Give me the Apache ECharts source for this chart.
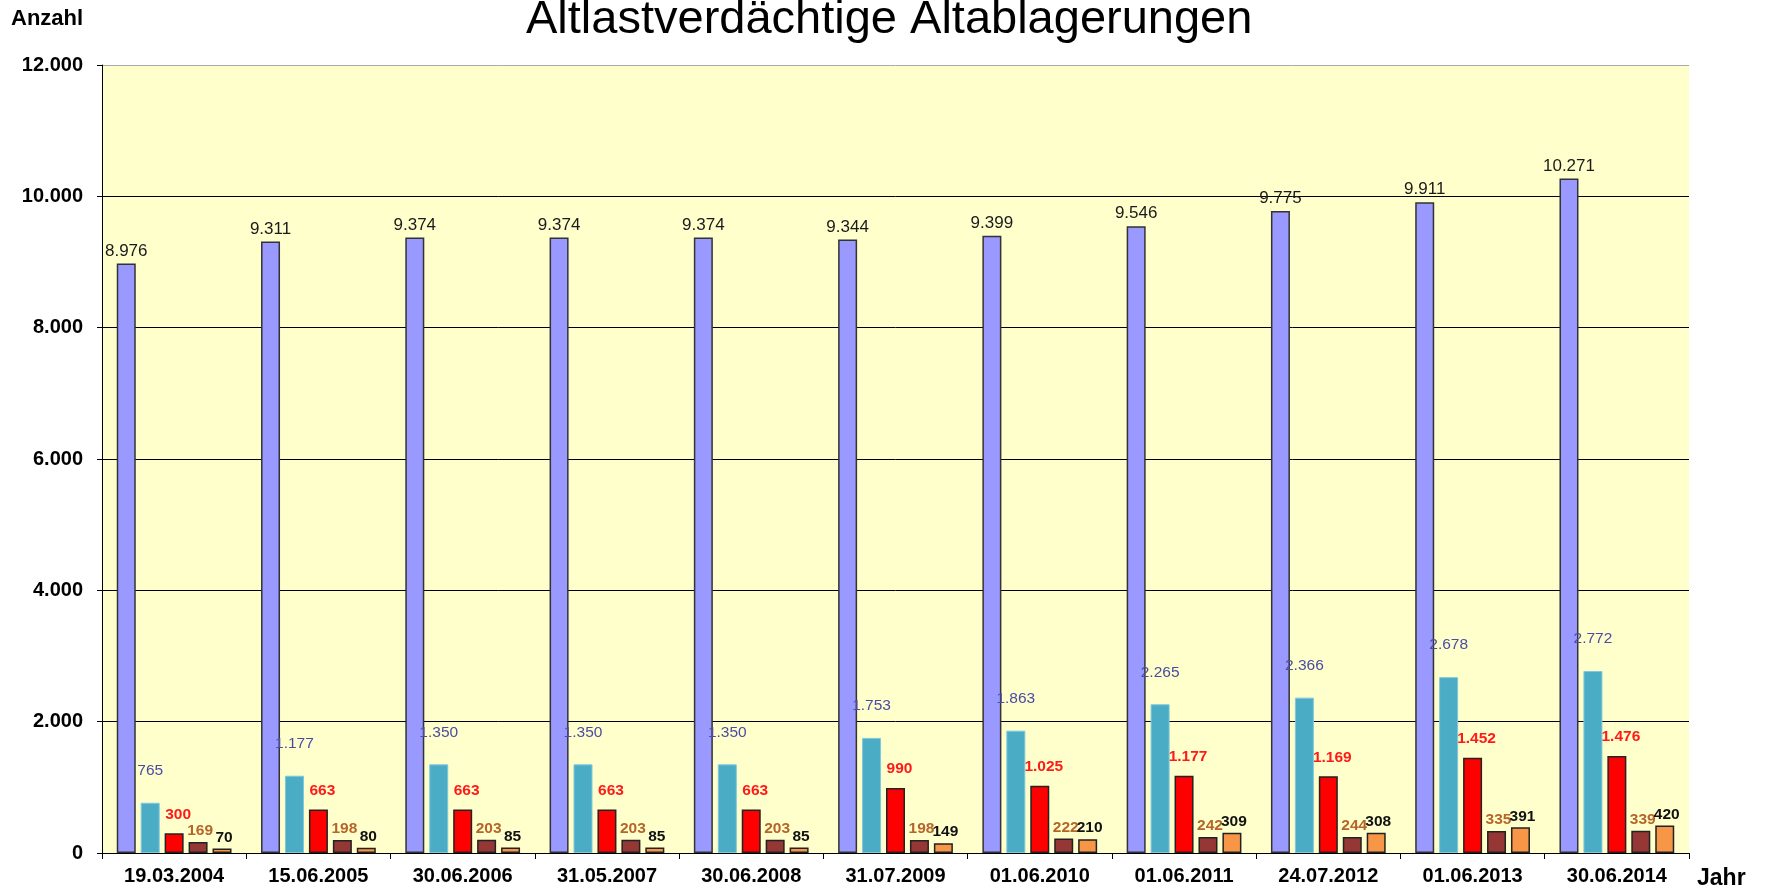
<!DOCTYPE html>
<html>
<head>
<meta charset="utf-8">
<script src="https://cdn.jsdelivr.net/npm/echarts@6/dist/echarts.min.js"></script>
<style>html,body{margin:0;padding:0;background:#fff}#c{width:1765px;height:889px}</style>
</head>
<body>
<div id="c"></div>
<script>
const categories = ['19.03.2004','15.06.2005','30.06.2006','31.05.2007','30.06.2008','31.07.2009','01.06.2010','01.06.2011','24.07.2012','01.06.2013','30.06.2014'];
const serie1 = [8976, 9311, 9374, 9374, 9374, 9344, 9399, 9546, 9775, 9911, 10271];
const serie2 = [765, 1177, 1350, 1350, 1350, 1753, 1863, 2265, 2366, 2678, 2772];
const serie3 = [300, 663, 663, 663, 663, 990, 1025, 1177, 1169, 1452, 1476];
const serie4 = [169, 198, 203, 203, 203, 198, 222, 242, 244, 335, 339];
const serie5 = [70, 80, 85, 85, 85, 149, 210, 309, 308, 391, 420];
const yTicks = [0, 2000, 4000, 6000, 8000, 10000, 12000];

const FONT = 'Liberation Sans, Arial, sans-serif';
function fmt(v){ return String(v).replace(/\B(?=(\d{3})+(?!\d))/g, '.'); }

const chart = echarts.init(document.getElementById('c'));
function bar(name, data, color, border, bw, lbl){
  return {
    name, type:'bar', data, barWidth:19, barGap:'26%',
    itemStyle:{color, borderColor:border, borderWidth:bw},
    label:Object.assign({show:true, position:'top', fontFamily:FONT, formatter:p=>fmt(p.value)}, lbl)
  };
}
chart.setOption({
  animation:false,
  title:{text:'Altlastverdächtige Altablagerungen', left:521, top:-8,
    textStyle:{fontFamily:FONT, fontSize:47, fontWeight:'normal', color:'#000'}},
  graphic:[
    {type:'text', left:11, top:8, style:{text:'Anzahl', font:'bold 22px '+FONT, fill:'#000'}},
    {type:'text', left:1697, top:867, style:{text:'Jahr', font:'bold 23px '+FONT, fill:'#000'}}
  ],
  grid:{left:102, right:76, top:65, bottom:36, show:true, backgroundColor:'#FFFFCC', borderWidth:0},
  xAxis:{type:'category', data:categories, boundaryGap:true,
    axisLine:{lineStyle:{color:'#000', width:1}},
    axisTick:{show:true, length:6, lineStyle:{color:'#000'}},
    axisLabel:{fontFamily:FONT, fontSize:20, fontWeight:'bold', color:'#000', margin:13}},
  yAxis:{type:'value', min:yTicks[0], max:yTicks[yTicks.length-1], interval:2000,
    axisLine:{show:true, lineStyle:{color:'#000', width:1}},
    axisTick:{show:true, length:5, lineStyle:{color:'#000'}},
    splitLine:{show:true, lineStyle:{color:['#000','#000','#000','#000','#000','#000','#aaa'], width:1}},
    axisLabel:{fontFamily:FONT, fontSize:20, fontWeight:'bold', color:'#000', margin:19, formatter:v=>fmt(v)}},
  series:[
    bar('Serie 1', serie1, '#9999FF', '#333333', 1.5, {fontSize:17, color:'#1a1a1a', distance:4}),
    bar('Serie 2', serie2, '#4BACC6', '#7FC8DC', 1, {fontSize:15.5, color:'#4B4BA5', distance:4, offset:[0,-20]}),
    bar('Serie 3', serie3, '#FF0000', '#222222', 1.5, {fontSize:15.5, fontWeight:'bold', color:'#FF1A1A', distance:4, offset:[4,-7]}),
    bar('Serie 4', serie4, '#953735', '#222222', 1.5, {fontSize:15.5, fontWeight:'bold', color:'#B5652A', distance:3, offset:[2,0]}),
    bar('Serie 5', serie5, '#F79646', '#222222', 1.5, {fontSize:15.5, fontWeight:'bold', color:'#111', distance:3, offset:[2,0]})
  ]
});
</script>
</body>
</html>
